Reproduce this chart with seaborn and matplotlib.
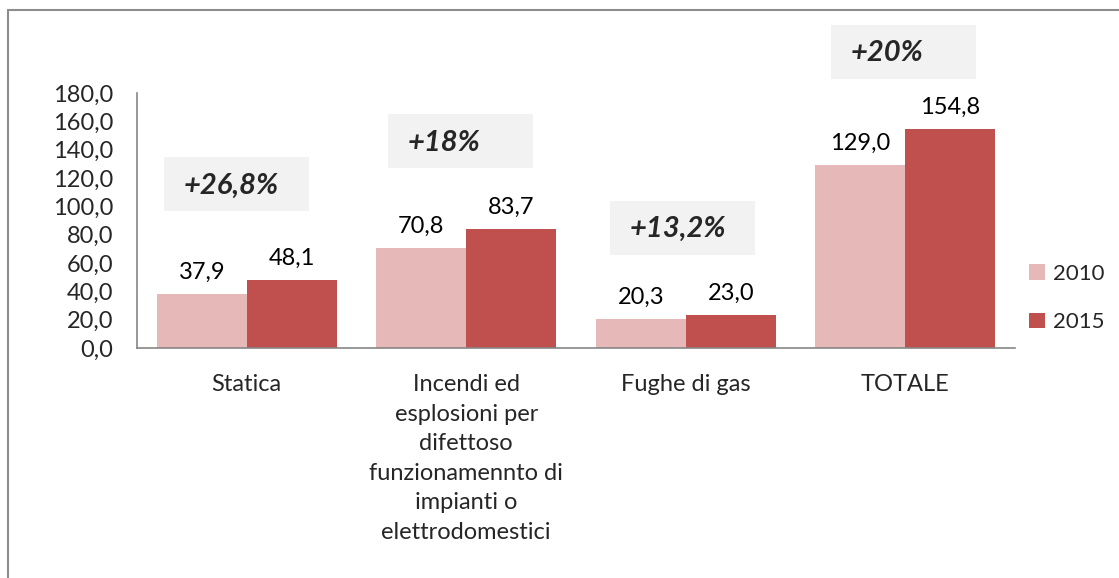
import numpy as np
import pandas as pd
import matplotlib
matplotlib.use("Agg")
import matplotlib.pyplot as plt
from matplotlib.patches import Rectangle, Patch
from matplotlib.lines import Line2D
import seaborn as sns

# data
categories = ["Statica",
              "Incendi ed\nesplosioni per\ndifettoso\nfunzionamennto di\nimpianti o\nelettrodomestici",
              "Fughe di gas",
              "TOTALE"]
values_2010 = [37.9, 70.8, 20.3, 129.0]
values_2015 = [48.1, 83.7, 23.0, 154.8]
years = ["2010", "2015"]
changes = ["+26,8%", "+18%", "+13,2%", "+20%"]

# layout of the grey change boxes (x offset from category, bottom y in data units)
box_dx = [-0.377, -0.357, -0.345, -0.338]
box_y = [96.7, 127.0, 66.0, 190.0]

colors = ["#e6b9b8", "#c0504d"]

df = pd.DataFrame({
    "cat": categories * 2,
    "year": [years[0]] * 4 + [years[1]] * 4,
    "val": values_2010 + values_2015,
})

sns.set_style("white")
plt.rcParams["font.family"] = ["Lato", "DejaVu Sans"]

fig = plt.figure(figsize=(11.19, 5.78), dpi=100)
ax = fig.add_axes([137 / 1119, 1 - 348 / 578, 878 / 1119, 255 / 578])

sns.barplot(data=df, x="cat", y="val", hue="year", palette=colors,
            width=0.82, gap=0, saturation=1, legend=False,
            linewidth=0, edgecolor="none", ax=ax)

for cont in ax.containers:
    labs = [f"{b.get_height():.1f}".replace(".", ",") for b in cont]
    ax.bar_label(cont, labels=labs, padding=8, fontsize=17, color="#000000")

ax.set_xlim(-0.5, 3.5)
ax.set_ylim(0, 180)
ax.set_yticks(np.arange(0, 181, 20))
ax.set_yticklabels([f"{v:.1f}".replace(".", ",") for v in np.arange(0, 181, 20)], fontsize=17)
ax.set_xticks(range(4))
ax.set_xticklabels(categories, fontsize=17, linespacing=1.5, va="top")
ax.set_xlabel("")
ax.set_ylabel("")

# category boundary ticks on x axis
ax.set_xticks(np.arange(-0.5, 4, 1), minor=True)
ax.tick_params(axis="x", which="major", length=0, pad=19)
ax.tick_params(axis="x", which="minor", length=7, width=1.2, color="#868686", direction="out")
ax.tick_params(axis="y", length=7, width=1.2, color="#868686", direction="out", pad=10)

for s in ["top", "right"]:
    ax.spines[s].set_visible(False)
for s in ["left", "bottom"]:
    ax.spines[s].set_color("#868686")
    ax.spines[s].set_linewidth(1.2)

# grey boxes with percentage change
for i, (txt, dx, by) in enumerate(zip(changes, box_dx, box_y)):
    ax.add_patch(Rectangle((i + dx, by), 0.66, 38, facecolor="#f2f2f2",
                           edgecolor="none", clip_on=False, zorder=0))
    ax.text(i + dx + 0.09, by + 18, txt, fontsize=21, fontweight="bold",
            fontstyle="italic", va="center", ha="left", clip_on=False)

handles = [Patch(facecolor=c, edgecolor="none") for c in colors]
fig.legend(handles, years, loc="center left",
           bbox_to_anchor=(1029 / 1119, 1 - 298 / 578), frameon=False,
           fontsize=16, handlelength=0.7, handleheight=0.7, borderpad=0,
           borderaxespad=0, handletextpad=0.4, labelspacing=1.3)

# outer frame (left and top edges only visible)
fig.add_artist(Line2D([7.5 / 1119, 7.5 / 1119], [0, 1 - 10 / 578],
                      transform=fig.transFigure, color="#8c8c8c", lw=1.5))
fig.add_artist(Line2D([7.5 / 1119, 1], [1 - 10 / 578, 1 - 10 / 578],
                      transform=fig.transFigure, color="#8c8c8c", lw=1.5))

fig.savefig("out.png", dpi=100)
